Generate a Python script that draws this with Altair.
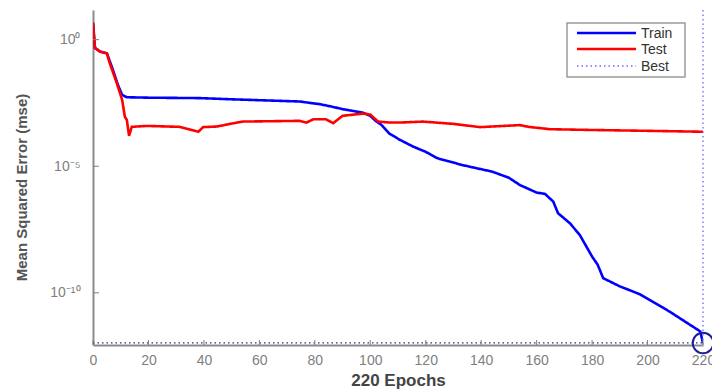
import altair as alt
import pandas as pd

# ---- data ----
train_epochs = [0, 0.7, 2.5, 5, 7.2, 9, 10.5, 12.2, 20, 38.6, 50, 74.6, 78, 82, 86.6, 90, 97.4,
                100, 102, 104, 107, 110.7, 115.4, 120, 124, 133.4, 144, 150, 154, 160, 163, 166,
                167.7, 172, 175.6, 180, 182, 184, 190, 197, 208, 219, 220]
train_mse = [4.6, 0.47, 0.34, 0.29, 0.063, 0.016, 6.6e-3, 5.3e-3, 5.1e-3, 4.9e-3, 4.4e-3, 3.6e-3,
             3.2e-3, 2.8e-3, 2.2e-3, 1.8e-3, 1.3e-3, 9.7e-4, 6.1e-4, 4.3e-4, 1.9e-4, 1.1e-4, 6.0e-5,
             3.7e-5, 2.1e-5, 1.1e-5, 6.1e-6, 3.5e-6, 1.8e-6, 9.1e-7, 8.1e-7, 4.0e-7, 1.4e-7, 5.6e-8,
             1.9e-8, 2.7e-9, 1.3e-9, 3.8e-10, 1.8e-10, 9.0e-11, 1.8e-11, 3.0e-12, 1.05e-12]

test_epochs = [0, 0.7, 2.5, 5, 6, 8.6, 10.5, 11.5, 12.2, 13, 14, 19.5, 31, 38, 39.7, 44.7, 49.4,
               54, 74.6, 77, 79.5, 84, 86.6, 90, 97.4, 100, 102.8, 107, 110.7, 119, 130, 139.6,
               154, 157, 164.8, 180, 200, 220]
test_mse = [4.6, 0.47, 0.34, 0.29, 0.12, 0.019, 4.2e-3, 8.9e-4, 6.8e-4, 1.6e-4, 3.6e-4, 3.9e-4,
            3.6e-4, 2.3e-4, 3.5e-4, 3.7e-4, 4.7e-4, 5.8e-4, 6.2e-4, 5.3e-4, 7.2e-4, 7.2e-4, 5.0e-4,
            9.8e-4, 1.2e-3, 1.1e-3, 5.8e-4, 5.3e-4, 5.3e-4, 5.8e-4, 4.7e-4, 3.5e-4, 4.2e-4, 3.6e-4,
            2.9e-4, 2.7e-4, 2.5e-4, 2.3e-4]

best_epoch = 220
best_mse = 1.05e-12
y_top = 14.8
y_bottom = 8.7e-13

series_names = ["Train", "Test", "Best"]
series_colors = ["#0000ff", "#ff0000", "#6a6aff"]
series_dash = [[1, 0], [1, 0], [1.5, 3]]
series_width = [2.6, 2.6, 1.3]

x_ticks = [0, 20, 40, 60, 80, 100, 120, 140, 160, 180, 200, 220]
y_ticks = [1, 1e-5, 1e-10]
y_tick_labels = ["10⁰", "10⁻⁵", "10⁻¹⁰"]

W, H = 610, 335
FONT = "Liberation Sans"

# ---- tables ----
lines_df = pd.concat([
    pd.DataFrame({"epoch": train_epochs, "mse": train_mse, "series": "Train", "o": range(len(train_epochs))}),
    pd.DataFrame({"epoch": test_epochs, "mse": test_mse, "series": "Test", "o": range(len(test_epochs))}),
], ignore_index=True)
best_v_df = pd.DataFrame({"epoch": [best_epoch, best_epoch], "mse": [y_top, y_bottom],
                          "series": ["Best", "Best"], "o": [0, 1]})
best_pt_df = pd.DataFrame({"epoch": [best_epoch], "mse": [best_mse]})
best_h_df = pd.DataFrame({"x0": [0], "x1": [best_epoch], "mse": [best_mse]})
xt_df = pd.DataFrame({"epoch": x_ticks})
yt_df = pd.DataFrame({"mse": y_ticks})

label_expr = " : ".join(
    f"datum.value == {v} ? '{l}'" for v, l in zip(y_ticks, y_tick_labels)
) + " : ''"

x_scale = alt.Scale(domain=[0, 220], nice=False, zero=False)
y_scale = alt.Scale(type="log", domain=[y_bottom, y_top], nice=False)

x_axis = alt.Axis(values=x_ticks, ticks=False, grid=False, labelPadding=8,
                  title="220 Epochs", titleFontSize=17, titleFontWeight="bold",
                  titleColor="#444444", titlePadding=5, labelFlush=False)
y_axis = alt.Axis(values=y_ticks, labelExpr=label_expr, ticks=False, grid=False,
                  labelPadding=13, title="Mean Squared Error  (mse)", titleFontSize=15,
                  titleFontWeight="bold", titleColor="#555555", titleY=177, titlePadding=20)

color = alt.Color("series:N", scale=alt.Scale(domain=series_names, range=series_colors), legend=None)
dash = alt.StrokeDash("series:N", scale=alt.Scale(domain=series_names, range=series_dash), legend=None)

lines = alt.Chart(lines_df).mark_line(strokeWidth=2.6, clip=True).encode(
    x=alt.X("epoch:Q", scale=x_scale, axis=x_axis),
    y=alt.Y("mse:Q", scale=y_scale, axis=y_axis),
    color=color, strokeDash=dash, order="o:Q", detail="series:N",
)

best_v = alt.Chart(best_v_df).mark_line(strokeWidth=1.3).encode(
    x="epoch:Q", y="mse:Q", color=color, strokeDash=dash, order="o:Q",
)

best_h = alt.Chart(best_h_df).mark_rule(strokeWidth=1.3, strokeDash=[1.5, 3], color="#2b2b8c").encode(
    x="x0:Q", x2="x1:Q", y="mse:Q",
)

circle = alt.Chart(best_pt_df).mark_point(shape="circle", size=420, filled=False,
                                          stroke="#1c1c9c", strokeWidth=2, opacity=1).encode(
    x="epoch:Q", y="mse:Q",
)

xticks = alt.Chart(xt_df).mark_rule(color="#808080", strokeWidth=1).encode(
    x="epoch:Q", y=alt.value(H), y2=alt.value(H - 5),
)
yticks = alt.Chart(yt_df).mark_rule(color="#808080", strokeWidth=1).encode(
    y="mse:Q", x=alt.value(0), x2=alt.value(6),
)

# ---- hand-built legend box (MATLAB style) ----
LX0, LX1, LY0, LY1 = 474, 592, 13, 67
legend_rows = [23, 39, 56]
legend_layers = [
    alt.Chart(pd.DataFrame({"k": [0]})).mark_rect(fill="white", stroke="#9a9a9a", strokeWidth=1.5).encode(
        x=alt.value(LX0), x2=alt.value(LX1), y=alt.value(LY0), y2=alt.value(LY1)
    )
]
for name, col, dsh, sw, ry in zip(series_names, series_colors, series_dash, series_width, legend_rows):
    d = pd.DataFrame({"series": [name]})
    legend_layers.append(
        alt.Chart(d).mark_rule(color=col, strokeDash=dsh, strokeWidth=sw).encode(
            x=alt.value(484), x2=alt.value(543), y=alt.value(ry)
        )
    )
    legend_layers.append(
        alt.Chart(d).mark_text(align="left", baseline="middle", fontSize=14, font=FONT,
                               color="#333333").encode(
            text="series:N", x=alt.value(548), y=alt.value(ry + 1)
        )
    )

chart = alt.layer(best_h, lines, best_v, circle, xticks, yticks, *legend_layers).properties(
    width=W, height=H,
    autosize=alt.AutoSizeParams(type="none"),
    padding={"left": 93, "top": 10, "right": 9, "bottom": 47},
    background="white",
).configure_view(stroke=None).configure_axis(
    domainColor="#8c8c8c", domainWidth=2, labelColor="#808080", labelFontSize=14,
    labelFont=FONT, titleFont=FONT,
)

chart.save("out.html", embed_options={"renderer": "svg", "actions": False})
